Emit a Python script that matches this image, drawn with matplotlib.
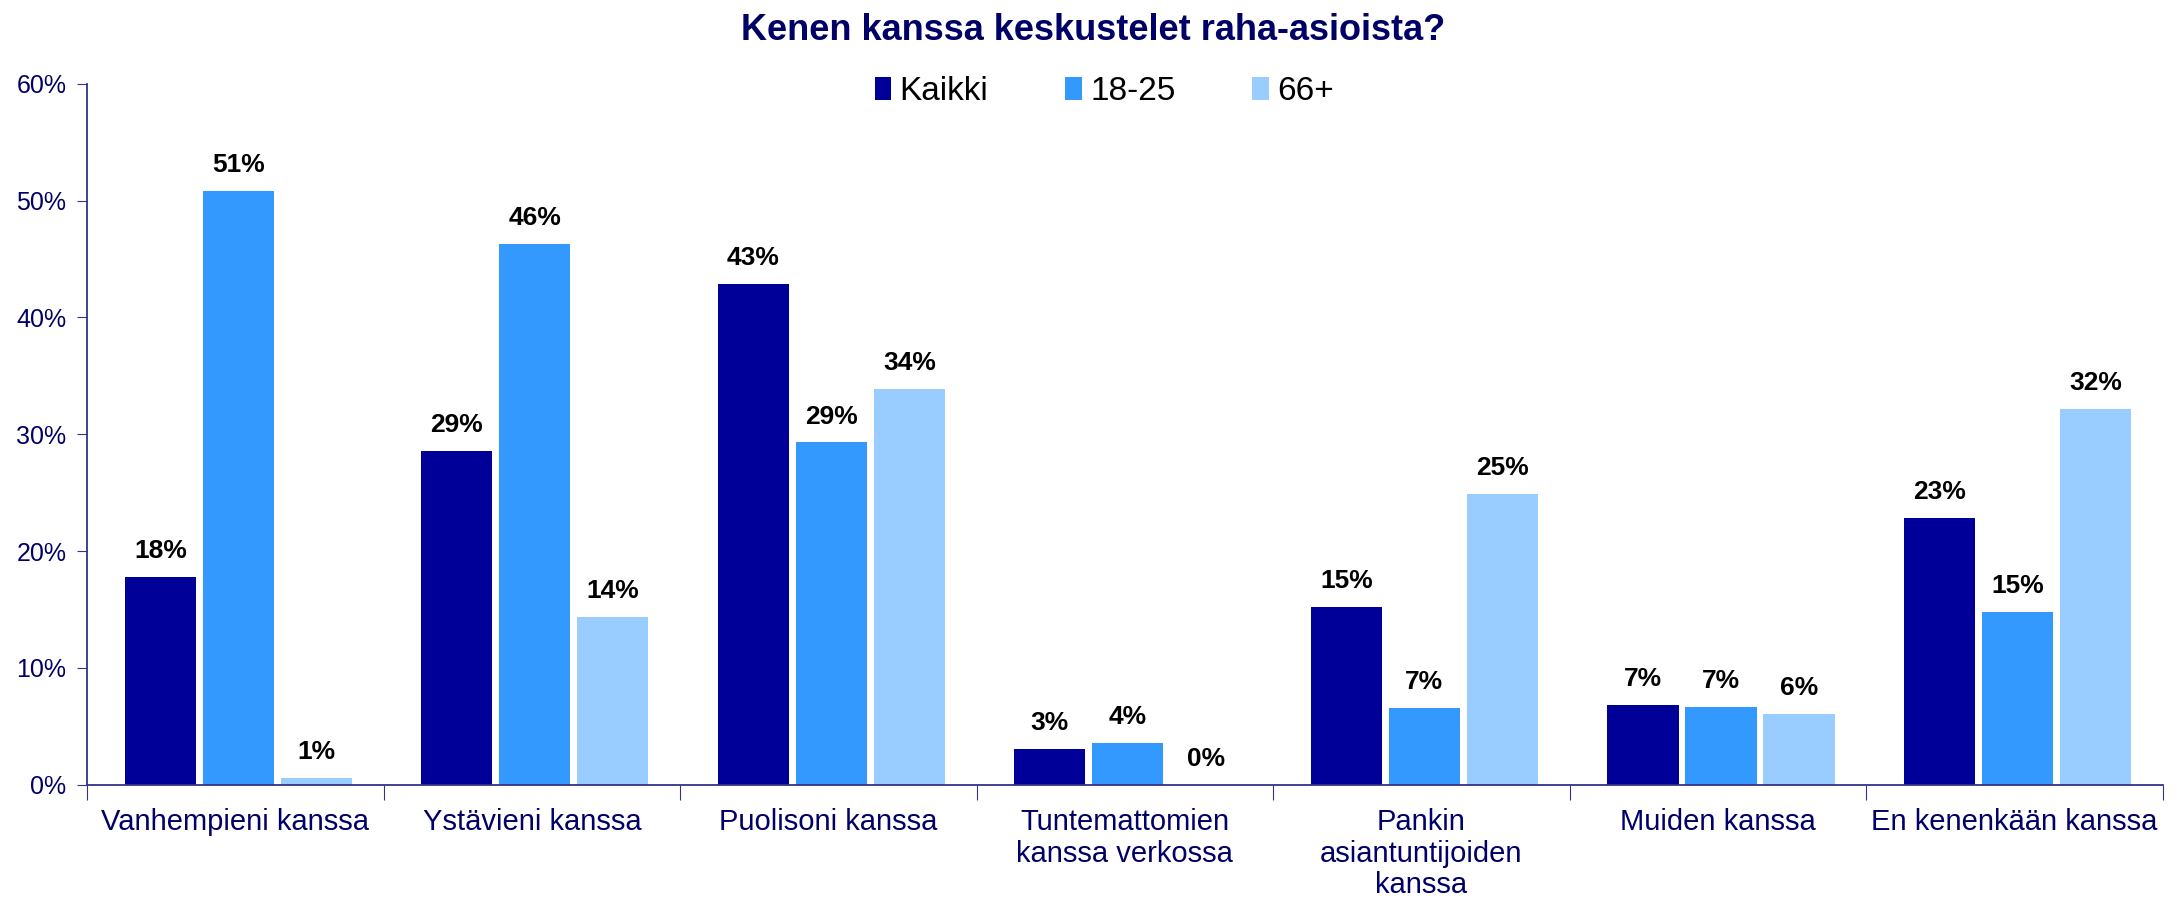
import matplotlib
matplotlib.use("Agg")
import matplotlib.pyplot as plt
import numpy as np
from matplotlib.patches import Patch

plt.rcParams['font.family'] = ['Liberation Sans', 'DejaVu Sans']

categories = ["Vanhempieni kanssa", "Ystävieni kanssa", "Puolisoni kanssa",
              "Tuntemattomien\nkanssa verkossa", "Pankin\nasiantuntijoiden\nkanssa",
              "Muiden kanssa", "En kenenkään kanssa"]
series_names = ["Kaikki", "18-25", "66+"]
kaikki = [17.8, 28.6, 42.9, 3.1, 15.2, 6.8, 22.8]
nuoret = [50.8, 46.3, 29.3, 3.6, 6.6, 6.7, 14.8]
vanhat = [0.6, 14.4, 33.9, 0.0, 24.9, 6.1, 32.2]
colors = ["#000099", "#3399FF", "#99CCFF"]

navy = "#000066"
axis_col = "#333388"

fig = plt.figure(figsize=(21.78, 9), dpi=100)
ax = fig.add_axes([0.040, 0.128, 0.953, 0.779])

x = np.arange(len(categories))
step = 0.263
width = 0.24
for i, (vals, col) in enumerate(zip([kaikki, nuoret, vanhat], colors)):
    pos = x + (i - 1) * step + 0.01
    ax.bar(pos, vals, width=width, color=col, label=series_names[i])
    for xb, v in zip(pos, vals):
        ax.annotate(f"{round(v + 1e-9):.0f}%", (xb, v), xytext=(0, 10), textcoords="offset points",
                    ha="center", va="bottom", fontsize=19, fontweight="bold", color="black")

ax.set_xlim(-0.5, len(categories) - 0.5)
ax.set_ylim(0, 60)
ax.set_yticks(np.arange(0, 61, 10))
ax.set_yticklabels([f"{v}%" for v in range(0, 61, 10)], fontsize=18, color=navy)
ax.tick_params(axis='y', direction='out', length=7, color=axis_col, pad=8)

ax.set_xticks(np.arange(-0.5, len(categories), 1.0))
ax.set_xticklabels([])
ax.tick_params(axis='x', which='major', direction='out', length=11, color=axis_col)
ax.set_xticks(x, minor=True)
ax.set_xticklabels(categories, minor=True, fontsize=21, color=navy, linespacing=1.15)
ax.tick_params(axis='x', which='minor', length=0, pad=17)

for s in ['top', 'right']:
    ax.spines[s].set_visible(False)
for s in ['left', 'bottom']:
    ax.spines[s].set_color(axis_col)
    ax.spines[s].set_linewidth(1.3)

fig.suptitle("Kenen kanssa keskustelet raha-asioista?", x=0.502, y=0.985,
             fontsize=26, fontweight="bold", color=navy)

handles = [Patch(facecolor=c, label=n) for c, n in zip(colors, series_names)]
fig.legend(handles=handles, loc="center", bbox_to_anchor=(0.507, 0.898), ncol=3,
           frameon=False, fontsize=24, handlelength=0.5, handleheight=0.7,
           handletextpad=0.25, columnspacing=2.3)

fig.savefig("out.png", dpi=100)
